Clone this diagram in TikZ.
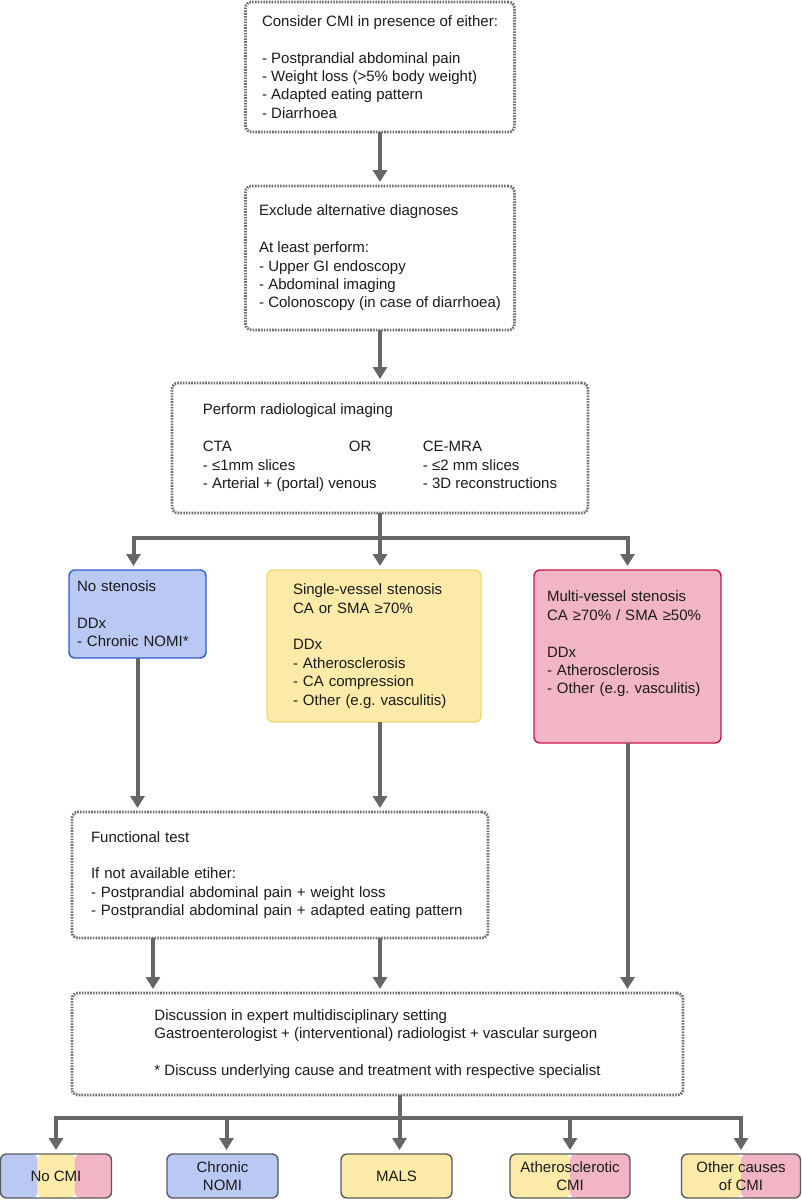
\documentclass[tikz,border=0pt]{standalone}
\usepackage{fontspec}
\setmainfont{Liberation Sans}
\usetikzlibrary{positioning,calc,arrows.meta}

\definecolor{dotgray}{HTML}{6E6E6E}
\definecolor{arrgray}{HTML}{666666}
\definecolor{inkc}{HTML}{1A1A1A}
\definecolor{blueF}{HTML}{BAC9F3}
\definecolor{blueD}{HTML}{2E5BD3}
\definecolor{yelF}{HTML}{FCEAA9}
\definecolor{yelD}{HTML}{F1D86E}
\definecolor{pinkF}{HTML}{F2B5C6}
\definecolor{pinkD}{HTML}{C7164F}
\definecolor{outD}{HTML}{5A5A5A}

\begin{document}
\begin{tikzpicture}[x=1pt, y=-1pt,
    txt/.style={text=inkc, font=\fontsize{15}{18.4}\selectfont\frenchspacing, outer sep=0pt},
    gbox/.style={txt, draw=dotgray, line width=2.8pt, dash pattern=on 1.6pt off 1.2pt, rounded corners=6pt, align=left},
    cbox/.style={txt, line width=1.4pt, rounded corners=6pt, align=left, anchor=north west},
    obox/.style={txt, draw=outD, line width=1.4pt, rounded corners=6pt, align=center, minimum height=44pt},
    arr/.style={draw=arrgray, line width=4pt, -{Triangle[width=14pt,length=12pt]}, shorten >=4pt},
    two/.style={path picture={
        \fill[yelF] (path picture bounding box.north west) rectangle ($(path picture bounding box.south west)!0.5!(path picture bounding box.south east)$);
        \fill[pinkF] ($(path picture bounding box.north west)!0.5!(path picture bounding box.north east)$) rectangle (path picture bounding box.south east);}},
    three/.style={path picture={
        \fill[blueF] (path picture bounding box.north west) rectangle ($(path picture bounding box.south west)!0.335!(path picture bounding box.south east)$);
        \fill[yelF] ($(path picture bounding box.north west)!0.335!(path picture bounding box.north east)$) rectangle ($(path picture bounding box.south west)!0.67!(path picture bounding box.south east)$);
        \fill[pinkF] ($(path picture bounding box.north west)!0.67!(path picture bounding box.north east)$) rectangle (path picture bounding box.south east);}}
  ]
\useasboundingbox (0,0) rectangle (801,1200);

% Clinical suspicion
\node[gbox, minimum width=269pt, minimum height=130pt] (symp) at (380,67) {Consider CMI in presence of either:\\[18.4pt]
- Postprandial abdominal pain\\ - Weight loss (>5\% body weight)\\ - Adapted eating pattern\\ - Diarrhoea};

% Exclusion of other causes
\node[gbox, below=54pt of symp, minimum width=269pt, minimum height=144pt] (excl) {Exclude alternative diagnoses\\[18.4pt]
At least perform:\\ - Upper GI endoscopy\\ - Abdominal imaging\\ - Colonoscopy (in case of diarrhoea)};

% Imaging
\node[gbox, below=53pt of excl, minimum width=416pt, minimum height=130pt] (rad) {\begin{tabular}{@{}p{220pt}@{}l@{}}
\multicolumn{2}{@{}l@{}}{Perform radiological imaging}\\ \\
\makebox[146pt][l]{CTA}OR & CE-MRA\\
- ≤1mm slices & - ≤2 mm slices\\
- Arterial + (portal) venous & - 3D reconstructions
\end{tabular}};

% Imaging outcomes
\node[cbox, fill=blueF, draw=blueD, inner xsep=8pt, text width=121pt, minimum height=88pt] (nost) at (69,570) {No stenosis\\[18.4pt] DDx\\ - Chronic NOMI*};
\node[cbox, fill=yelF, draw=yelD, inner xsep=26pt, text width=162pt, minimum height=152pt] (sing) at (267,570) {Single-vessel stenosis\\ CA or SMA ≥70\%\\[18.4pt] DDx\\ - Atherosclerosis\\ - CA compression\\ - Other (e.g. vasculitis)};
\node[cbox, fill=pinkF, draw=pinkD, inner xsep=13pt, text width=161pt, minimum height=173pt] (mult) at (534,570) {Multi-vessel stenosis\\ CA ≥70\% / SMA ≥50\%\\[18.4pt] DDx\\ - Atherosclerosis\\ - Other (e.g. vasculitis)\rule[-28pt]{0pt}{28pt}};

% Functional test
\node[gbox, minimum height=126pt, inner xsep=19pt, text width=378pt] (func) at (280,875) {Functional test\\[18.4pt]
If not available etiher:\\ - Postprandial abdominal pain + weight loss\\ - Postprandial abdominal pain + adapted eating pattern};

% Multidisciplinary discussion
\node[gbox, minimum width=611pt, minimum height=102pt] (disc) at (377.5,1044) {Discussion in expert multidisciplinary setting\\
Gastroenterologist + (interventional) radiologist + vascular surgeon\\[18.4pt]
* Discuss underlying cause and treatment with respective specialist};

% Final diagnoses
\node[obox, minimum width=111pt, three] (nocmi) at (56,1176) {No CMI};
\node[obox, minimum width=111pt, fill=blueF] (nomi) at (222.5,1176) {Chronic\\NOMI};
\node[obox, minimum width=111pt, fill=yelF] (mals) at (396.5,1176) {MALS};
\node[obox, minimum width=120pt, two] (athcmi) at (570,1176) {Atherosclerotic\\CMI};
\node[obox, minimum width=119pt, two] (othcmi) at (741,1176) {Other causes\\of CMI};

% Connectors
\coordinate (split1) at (380,538);
\coordinate (split2) at (400,1118);
\path ([xshift=-127pt]func.south) coordinate (funcl);

\draw[arr] (symp) -- (excl);
\draw[arr] (excl) -- (rad);
\draw[arr] (rad.south) -- (split1) -| ([xshift=-4pt]nost.north);
\draw[arr] (rad.south) -- (rad.south |- sing.north);
\draw[arr] (rad.south) -- (split1) -| (mult.north);

\draw[arr] (nost) -- (nost |- func.north);
\draw[arr] (sing.south -| split1) -- (split1 |- func.north);
\draw[arr] (mult) -- (mult |- disc.north);

\draw[arr] (funcl) -- (funcl |- disc.north);
\draw[arr] (func.south -| split1) -- (split1 |- disc.north);

\foreach \b/\dx in {nocmi/0, nomi/4, mals/3, athcmi/0, othcmi/0}
  \draw[arr] (disc.south -| split2) -- (split2) -| ([xshift=\dx pt]\b.north);

\end{tikzpicture}
\end{document}
